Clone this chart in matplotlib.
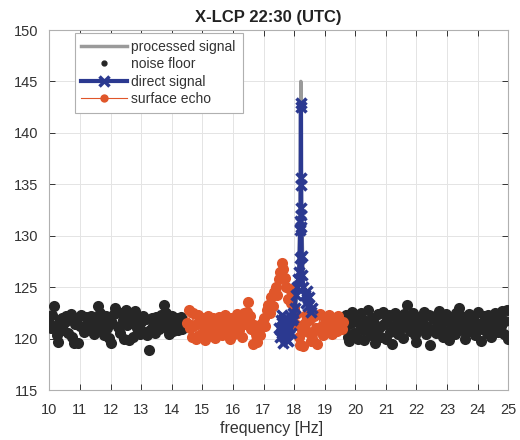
import numpy as np
import matplotlib
matplotlib.use("Agg")
import matplotlib.pyplot as plt
from matplotlib.lines import Line2D

plt.rcParams['font.family'] = ['Liberation Sans', 'DejaVu Sans']

# ---- data ----
noise_left_f = np.round(np.linspace(10.0, 14.45, 90), 2)
noise_left_v = [121.5, 121.0, 122.3, 123.2, 121.2, 120.3, 119.7, 121.8, 122.0, 120.8,
                121.6, 122.2, 120.5, 121.9, 122.4, 120.2, 119.6, 121.4, 122.0, 119.6,
                121.2, 122.3, 121.0, 120.6, 122.1, 121.5, 120.8, 122.2, 121.3, 120.4,
                122.0, 121.2, 123.2, 122.5, 120.9, 121.7, 120.3, 122.2, 121.0, 120.1,
                119.6, 121.5, 122.4, 123.0, 122.6, 121.1, 120.5, 122.5, 121.8, 120.0,
                122.8, 121.3, 119.9, 122.3, 121.5, 120.2, 122.7, 121.0, 122.1, 120.4,
                121.6, 122.2, 120.6, 121.9, 120.3, 118.9, 120.8, 122.0, 121.2, 120.5,
                122.1, 121.4, 120.9, 122.3, 121.6, 123.3, 122.5, 121.0, 120.4, 121.8,
                122.2, 120.7, 121.5, 122.0, 120.8, 121.3, 122.1, 120.9, 121.4, 121.2]

noise_right_f = np.round(np.linspace(19.65, 25.0, 108), 2)
noise_right_v = [121.0, 122.3, 120.2, 119.8, 121.5, 122.6, 120.5, 121.8, 122.2, 120.0,
                 121.3, 122.5, 120.8, 119.9, 121.7, 122.8, 121.2, 120.3, 122.0, 121.5,
                 119.6, 120.9, 122.4, 121.1, 120.2, 122.6, 121.4, 120.0, 121.9, 122.3,
                 120.6, 119.5, 121.2, 122.5, 121.8, 120.4, 122.0, 121.0, 120.1, 122.4,
                 121.6, 123.3, 122.2, 120.7, 121.3, 122.5, 120.3, 119.7, 121.8, 122.1,
                 120.9, 121.5, 122.6, 120.4, 121.1, 122.3, 119.4, 120.8, 121.9, 122.2,
                 120.5, 121.4, 122.7, 121.0, 120.2, 121.8, 122.4, 120.6, 119.9, 121.5,
                 122.1, 121.2, 120.4, 122.5, 121.7, 123.0, 122.2, 120.8, 121.3, 120.0,
                 121.9, 122.4, 120.7, 121.5, 122.0, 120.3, 121.1, 122.6, 121.4, 119.8,
                 120.9, 122.2, 121.6, 120.5, 122.3, 121.0, 120.2, 121.8, 122.5, 121.3,
                 120.6, 122.0, 121.2, 122.7, 120.4, 121.7, 122.8, 120.0]

echo_f = np.round(np.linspace(14.5, 19.6, 103), 2)
echo_v = [121.5, 122.8, 121.0, 120.2, 122.5, 121.3, 120.0, 122.3, 121.6, 120.4,
          122.0, 121.1, 119.9, 121.8, 122.2, 120.5, 121.4, 122.0, 120.1, 121.7,
          120.6, 122.1, 121.2, 120.3, 121.8, 122.3, 120.7, 121.5, 120.0, 122.0,
          121.3, 120.4, 121.9, 122.4, 120.8, 121.6, 120.2, 122.5, 121.4, 122.6,
          123.6, 122.2, 120.9, 119.5, 121.3, 120.4, 119.7, 121.0, 120.3, 121.5,
          122.0, 121.2, 122.8, 123.3, 122.5, 124.0, 123.2, 124.5, 125.0, 124.2,
          125.8, 126.5, 127.3, 126.8, 125.9, 125.0, 123.8, 124.8, 123.5, 124.6,
          123.0, 122.4, 121.3, 120.2, 119.4, 120.8, 119.3, 121.5, 122.3, 120.6,
          121.8, 119.8, 120.5, 122.2, 121.0, 119.5, 120.8, 122.4, 121.2, 120.3,
          122.0, 121.5, 120.6, 122.3, 121.1, 120.4, 122.0, 121.4, 120.7, 122.2,
          121.3, 120.9, 121.6]

direct_f = [17.50, 17.53, 17.56, 17.59, 17.62, 17.65, 17.68, 17.71, 17.74, 17.77,
            17.80, 17.83, 17.86, 17.89, 17.92, 17.95, 17.98, 18.02, 18.06, 18.10,
            18.14, 18.16, 18.18, 18.195, 18.205, 18.21, 18.215, 18.22, 18.225, 18.23,
            18.235, 18.24, 18.25, 18.27, 18.30, 18.34, 18.38, 18.42, 18.46, 18.50,
            18.55, 18.60]
direct_v = [121.0, 120.2, 121.8, 122.3, 120.5, 119.6, 121.2, 122.0, 120.0, 121.5,
            119.8, 121.0, 122.2, 120.5, 121.8, 122.5, 122.0, 123.0, 124.2, 125.0,
            125.8, 126.5, 127.8, 130.6, 131.4, 132.0, 134.9, 142.5, 142.9, 135.6,
            132.7, 130.8, 128.0, 126.2, 125.0, 124.2, 123.5, 124.6, 123.2, 124.0,
            122.6, 123.0]

processed_f = [17.50, 18.00, 18.15, 18.20, 18.22, 18.24, 18.30, 18.60]
processed_v = [121.0, 122.0, 126.0, 133.0, 145.0, 133.0, 125.0, 123.0]

x_ticks = list(range(10, 26))
y_ticks = list(range(115, 151, 5))

# ---- figure ----
fig = plt.figure(figsize=(5.2, 4.4), dpi=100)
ax = fig.add_axes([49.3/520, 50/440, 459/520, 360/440])

c_gray = '#9a9a9a'
c_black = '#262626'
c_blue = '#2b3990'
c_orange = '#e0562a'

ax.plot(processed_f, processed_v, color=c_gray, lw=2.5, label='processed signal', zorder=2)
ax.plot(noise_left_f, noise_left_v, ls='none', marker='o', ms=8, mec='none',
        color=c_black, label='noise floor', zorder=3)
ax.plot(noise_right_f, noise_right_v, ls='none', marker='o', ms=8, mec='none',
        color=c_black, zorder=3)
ax.plot(echo_f, echo_v, color=c_orange, lw=0.8, marker='o', ms=8, mec='none',
        label='surface echo', zorder=3)
ax.plot(direct_f, direct_v, color=c_blue, lw=3, marker='x', ms=7, mew=2.5,
        label='direct signal', zorder=4)

ax.set_xlim(10, 25)
ax.set_ylim(115, 150)
ax.set_xticks(x_ticks)
ax.set_yticks(y_ticks)
ax.grid(True, color='#e4e4e4', lw=0.7)
ax.set_axisbelow(True)
ax.tick_params(direction='in', top=True, right=True, labelsize=10.5,
               colors='#333333', length=4, width=0.7)
ax.tick_params(axis='x', pad=9)
ax.tick_params(axis='y', pad=8)
for s in ax.spines.values():
    s.set_color('#b0b0b0')
    s.set_linewidth(0.8)

ax.set_xlabel('frequency [Hz]', fontsize=11.5, color='#333333', labelpad=3, x=0.484)
ax.set_title('X-LCP 22:30 (UTC)', fontsize=12, fontweight='bold', color='#222222',
             pad=6, x=0.476)

h, l = ax.get_legend_handles_labels()
order = [l.index('processed signal'), l.index('noise floor'),
         l.index('direct signal'), l.index('surface echo')]
handles = [h[i] for i in order]
labels = [l[i] for i in order]
handles[1] = Line2D([], [], ls='none', marker='.', ms=7, color=c_black)
handles[3] = Line2D([], [], color=c_orange, lw=0.8, marker='o', ms=6, mec='none')
leg = ax.legend(handles, labels, loc='upper left', bbox_to_anchor=(0.055, 0.992),
                fontsize=10, handlelength=3.3, handletextpad=0.3, labelspacing=0.25,
                borderpad=0.5, fancybox=False, framealpha=1, edgecolor='#b0b0b0',
                borderaxespad=0)
leg.get_frame().set_linewidth(0.8)
for t in leg.get_texts():
    t.set_color('#333333')

fig.savefig('out.png', dpi=100)
